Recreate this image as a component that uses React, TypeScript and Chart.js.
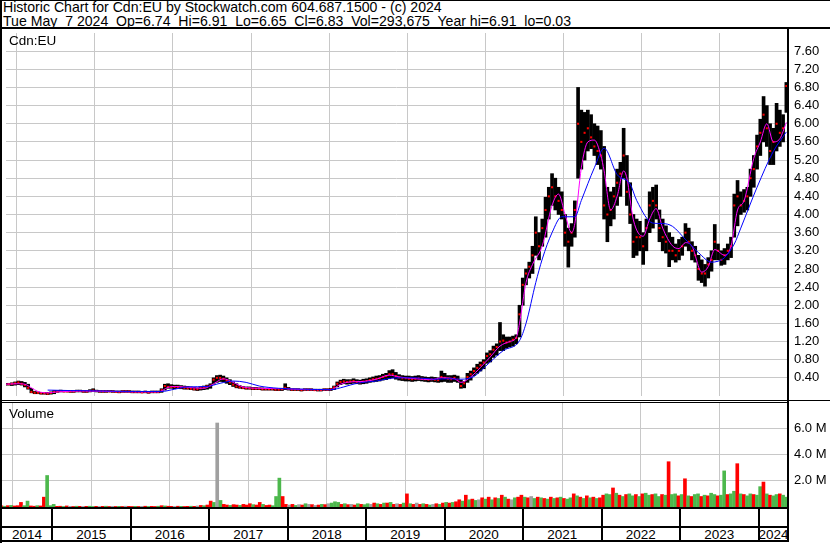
import React, { useEffect, useRef, useState } from 'react';
import { Chart, registerables } from 'chart.js';

Chart.register(...registerables);

const FONT = '"Liberation Sans", Arial, Helvetica, sans-serif';

// One entry per half-month, from May 2014 (1st half) to May 2024 (1st half)
const YEAR_LABELS = ['2014', '2015', '2016', '2017', '2018', '2019', '2020', '2021', '2022', '2023', '2024'];

const LOW = [
  0.24, 0.24, 0.23, 0.24, 0.25, 0.24, 0.20, 0.15, 0.07, 0.05, 0.05, 0.04, 0.04, 0.03, 0.04, 0.05,
  0.08, 0.09, 0.09, 0.09, 0.08, 0.08, 0.09, 0.09, 0.08, 0.08, 0.09, 0.10, 0.09, 0.08, 0.08, 0.08, 0.09, 0.08, 0.08, 0.07, 0.08, 0.08, 0.08, 0.07,
  0.07, 0.07, 0.07, 0.07, 0.06, 0.07, 0.07, 0.07, 0.08, 0.13, 0.17, 0.17, 0.16, 0.17, 0.16, 0.15, 0.15, 0.14, 0.13, 0.12, 0.13, 0.14, 0.15, 0.17,
  0.26, 0.30, 0.32, 0.31, 0.28, 0.25, 0.21, 0.18, 0.17, 0.16, 0.15, 0.15, 0.14, 0.14, 0.14, 0.13, 0.13, 0.13, 0.13, 0.12, 0.12, 0.12, 0.14, 0.13,
  0.12, 0.12, 0.12, 0.11, 0.12, 0.12, 0.12, 0.12, 0.11, 0.11, 0.12, 0.12, 0.12, 0.14, 0.20, 0.25, 0.27, 0.26, 0.27, 0.28, 0.27, 0.26, 0.27, 0.28,
  0.30, 0.31, 0.32, 0.33, 0.35, 0.36, 0.38, 0.40, 0.37, 0.35, 0.34, 0.33, 0.33, 0.32, 0.33, 0.34, 0.33, 0.32, 0.31, 0.32, 0.31, 0.30, 0.31, 0.32,
  0.30, 0.30, 0.32, 0.30, 0.17, 0.18, 0.30, 0.35, 0.45, 0.50, 0.55, 0.60, 0.72, 0.75, 0.85, 0.90, 1.00, 1.00, 1.05, 1.08, 1.10, 1.15, 1.30, 2.00,
  2.45, 2.60, 2.70, 3.10, 3.00, 3.30, 3.50, 3.90, 4.20, 4.10, 4.00, 3.90, 3.30, 2.84, 3.30, 3.50, 4.80, 5.00, 5.20, 5.40, 5.45, 5.30, 5.10, 5.00,
  3.90, 3.40, 3.75, 3.90, 4.20, 4.40, 4.80, 4.20, 3.80, 3.05, 3.10, 3.20, 2.90, 3.20, 3.60, 3.70, 3.90, 3.40, 3.20, 3.15, 2.85, 3.00, 2.95, 3.00,
  3.10, 3.30, 3.20, 3.00, 2.95, 2.55, 2.50, 2.42, 2.60, 2.75, 3.00, 3.00, 2.88, 2.90, 3.00, 3.05, 3.50, 3.75, 4.00, 4.05, 4.10, 4.40, 4.60, 5.00,
  5.30, 5.60, 5.50, 5.10, 5.10, 5.40, 5.50, 5.60, 6.25,
];

const HIGH = [
  0.28, 0.28, 0.29, 0.31, 0.33, 0.32, 0.30, 0.26, 0.17, 0.10, 0.09, 0.08, 0.08, 0.08, 0.09, 0.12,
  0.12, 0.13, 0.12, 0.12, 0.12, 0.11, 0.13, 0.13, 0.12, 0.12, 0.14, 0.16, 0.13, 0.12, 0.12, 0.12, 0.12, 0.12, 0.11, 0.11, 0.12, 0.12, 0.12, 0.11,
  0.11, 0.11, 0.10, 0.11, 0.10, 0.11, 0.11, 0.11, 0.16, 0.26, 0.27, 0.25, 0.24, 0.24, 0.23, 0.22, 0.21, 0.20, 0.19, 0.18, 0.20, 0.22, 0.24, 0.27,
  0.40, 0.45, 0.46, 0.44, 0.40, 0.36, 0.31, 0.27, 0.23, 0.21, 0.20, 0.20, 0.19, 0.19, 0.18, 0.18, 0.17, 0.17, 0.17, 0.16, 0.16, 0.17, 0.27, 0.19,
  0.16, 0.16, 0.16, 0.15, 0.16, 0.16, 0.16, 0.15, 0.15, 0.15, 0.16, 0.16, 0.17, 0.22, 0.31, 0.35, 0.37, 0.36, 0.36, 0.38, 0.36, 0.35, 0.37, 0.38,
  0.40, 0.42, 0.44, 0.45, 0.48, 0.50, 0.56, 0.58, 0.52, 0.47, 0.45, 0.44, 0.44, 0.43, 0.44, 0.45, 0.43, 0.42, 0.41, 0.42, 0.41, 0.40, 0.55, 0.50,
  0.45, 0.45, 0.46, 0.44, 0.35, 0.32, 0.50, 0.55, 0.62, 0.70, 0.75, 0.80, 0.95, 1.00, 1.10, 1.15, 1.62, 1.35, 1.30, 1.30, 1.32, 1.35, 2.00, 2.60,
  2.80, 2.95, 3.30, 3.95, 3.60, 3.90, 4.38, 4.60, 4.90, 4.80, 4.60, 4.50, 4.00, 3.70, 3.80, 4.30, 6.80, 6.30, 6.25, 6.30, 6.20, 6.00, 5.95, 5.85,
  5.50, 4.60, 4.50, 4.60, 5.00, 5.15, 5.90, 5.30, 4.70, 4.00, 3.90, 3.85, 3.60, 3.90, 4.50, 4.60, 4.65, 4.10, 3.90, 3.75, 3.60, 3.50, 3.35, 3.45,
  3.50, 3.80, 3.70, 3.40, 3.30, 3.10, 3.00, 2.90, 3.05, 3.20, 3.78, 3.35, 3.20, 3.25, 3.35, 3.50, 4.45, 4.75, 4.50, 4.55, 4.60, 5.00, 5.30, 5.75,
  6.10, 6.60, 6.40, 6.00, 5.90, 6.45, 6.30, 6.20, 6.91,
];

const CLOSE = [
  0.26, 0.26, 0.27, 0.28, 0.30, 0.27, 0.24, 0.18, 0.09, 0.07, 0.07, 0.06, 0.06, 0.05, 0.07, 0.09,
  0.10, 0.11, 0.10, 0.10, 0.10, 0.10, 0.11, 0.11, 0.10, 0.10, 0.11, 0.12, 0.11, 0.10, 0.10, 0.10, 0.10, 0.10, 0.09, 0.09, 0.10, 0.10, 0.10, 0.09,
  0.09, 0.09, 0.08, 0.09, 0.08, 0.09, 0.09, 0.09, 0.13, 0.22, 0.20, 0.20, 0.20, 0.20, 0.19, 0.18, 0.17, 0.16, 0.15, 0.15, 0.17, 0.19, 0.21, 0.23,
  0.36, 0.40, 0.40, 0.38, 0.34, 0.30, 0.25, 0.21, 0.19, 0.18, 0.17, 0.17, 0.16, 0.16, 0.16, 0.15, 0.15, 0.15, 0.15, 0.14, 0.14, 0.15, 0.18, 0.16,
  0.14, 0.14, 0.14, 0.13, 0.14, 0.14, 0.14, 0.13, 0.13, 0.13, 0.14, 0.14, 0.15, 0.19, 0.27, 0.31, 0.32, 0.31, 0.32, 0.33, 0.31, 0.30, 0.32, 0.33,
  0.35, 0.37, 0.38, 0.39, 0.42, 0.44, 0.48, 0.48, 0.44, 0.41, 0.39, 0.39, 0.38, 0.37, 0.38, 0.39, 0.38, 0.37, 0.36, 0.37, 0.36, 0.35, 0.42, 0.40,
  0.38, 0.37, 0.40, 0.36, 0.22, 0.28, 0.42, 0.48, 0.55, 0.62, 0.68, 0.74, 0.88, 0.92, 1.02, 1.08, 1.20, 1.22, 1.18, 1.20, 1.24, 1.28, 1.80, 2.45,
  2.70, 2.85, 3.10, 3.60, 3.30, 3.70, 4.10, 4.40, 4.60, 4.40, 4.30, 4.10, 3.60, 3.40, 3.60, 4.10, 6.00, 5.60, 5.80, 5.90, 5.70, 5.50, 5.40, 5.30,
  4.20, 4.00, 4.10, 4.40, 4.70, 4.90, 5.30, 4.50, 4.00, 3.40, 3.50, 3.50, 3.30, 3.70, 4.20, 4.30, 4.20, 3.70, 3.50, 3.40, 3.20, 3.20, 3.10, 3.20,
  3.30, 3.60, 3.40, 3.20, 3.10, 2.80, 2.70, 2.70, 2.90, 3.00, 3.40, 3.20, 3.00, 3.10, 3.20, 3.30, 4.20, 4.40, 4.20, 4.30, 4.40, 4.80, 5.00, 5.50,
  5.80, 6.20, 5.90, 5.40, 5.60, 6.00, 5.80, 5.90, 6.83,
];

// Volume in millions of shares
const VOLUME_M = [
  0.08, 0.06, 0.10, 0.12, 0.08, 0.10, 0.35, 0.10, 0.45, 0.08, 0.06, 0.10, 0.08, 0.75, 2.40, 0.10,
  0.20, 0.05, 0.06, 0.04, 0.08, 0.05, 0.04, 0.06, 0.05, 0.04, 0.05, 0.06, 0.04, 0.05, 0.04, 0.05, 0.06, 0.04, 0.05, 0.04, 0.05, 0.04, 0.06, 0.05,
  0.04, 0.05, 0.04, 0.05, 0.06, 0.04, 0.05, 0.04, 0.06, 0.10, 0.08, 0.06, 0.05, 0.04, 0.06, 0.05, 0.04, 0.05, 0.06, 0.05, 0.08, 0.12, 0.10, 0.15,
  0.45, 0.35, 6.40, 0.50, 0.20, 0.15, 0.12, 0.18, 0.15, 0.12, 0.20, 0.15, 0.25, 0.18, 0.15, 0.35, 0.20, 0.12, 0.15, 0.10, 0.80, 2.20, 0.80, 0.20,
  0.15, 0.20, 0.12, 0.18, 0.15, 0.25, 0.20, 0.18, 0.12, 0.15, 0.20, 0.18, 0.25, 0.30, 0.40, 0.35, 0.20, 0.25, 0.18, 0.20, 0.15, 0.25, 0.20, 0.18,
  0.25, 0.20, 0.30, 0.25, 0.20, 0.30, 0.30, 0.35, 0.20, 0.25, 0.20, 0.30, 1.00, 0.25, 0.20, 0.30, 0.20, 0.25, 0.20, 0.15, 0.20, 0.25, 0.20, 0.30,
  0.35, 0.30, 0.35, 0.40, 0.55, 0.45, 0.90, 0.55, 0.60, 0.50, 0.55, 0.70, 0.60, 0.75, 0.55, 0.70, 0.65, 0.90, 0.75, 0.60, 0.55, 0.70, 0.75, 0.90,
  0.75, 0.70, 0.80, 0.65, 0.75, 0.70, 0.65, 0.60, 0.75, 0.65, 0.70, 0.75, 0.65, 0.60, 0.70, 1.00, 0.85, 0.75, 0.65, 0.85, 0.70, 0.75, 0.65, 0.70,
  0.90, 1.00, 0.95, 1.45, 1.05, 0.90, 0.80, 0.95, 1.00, 0.85, 0.95, 0.80, 1.00, 1.05, 0.90, 0.95, 1.00, 0.80, 0.95, 0.90, 3.45, 0.95, 1.00, 0.85,
  0.95, 2.15, 0.85, 0.80, 0.95, 1.00, 0.80, 0.90, 0.85, 1.05, 0.95, 0.85, 0.90, 2.75, 0.95, 1.00, 1.20, 3.30, 1.00, 0.95, 0.85, 1.00, 0.95, 0.90,
  1.55, 1.90, 1.00, 0.90, 0.85, 0.95, 1.00, 0.90, 0.75,
];

// g = up, r = down, n = unchanged
const VOLUME_DIR = (
  'rgrgrrrggrrgrrgg' +
  'grrgrnrgrnrggrnrgrnrgrnr' +
  'rgrnrgrrgrgrrnrgrrgrnrgr' +
  'rgngrrgrrgrrrgrrgrrgggrr' +
  'nrgnrgnrnrgrngggrgrnrgrg' +
  'gnrgrgrgrnrgrgrnrgrgnrgr' +
  'grgrrgrgrgnrgrgrgrgrngrr' +
  'grngrgrgrgrgrggrgrgrgrgr' +
  'rggrgrgrggrgrggrggrgrggr' +
  'grgrggrgrggrggrggrgrggrg' +
  'grgrggrgg'
).split('');

// Short moving average (magenta): period index -> value
const FAST_MA_AT = [0, 4, 6, 8, 10, 13, 16, 24, 32, 40, 47, 50, 52, 58, 61, 64, 67, 70, 73, 78, 86, 92, 100, 103, 106, 110, 114, 118, 121, 126, 131, 134, 138, 140, 143, 146, 149, 152, 155, 157, 158, 160, 162, 165, 168, 170, 172, 174, 175, 177, 179, 181, 183, 184, 186, 188, 190, 191, 193, 196, 198, 200, 202, 205, 207, 209, 211, 214, 216, 218, 221, 223, 225, 227, 230, 232, 234, 236, 238, 240];
const FAST_MA = [0.26, 0.27, 0.26, 0.18, 0.10, 0.07, 0.09, 0.11, 0.10, 0.09, 0.09, 0.19, 0.21, 0.18, 0.17, 0.27, 0.38, 0.30, 0.20, 0.17, 0.16, 0.14, 0.14, 0.26, 0.31, 0.32, 0.37, 0.46, 0.42, 0.38, 0.36, 0.40, 0.38, 0.30, 0.42, 0.63, 0.86, 1.10, 1.20, 1.29, 1.60, 2.50, 2.90, 3.31, 4.20, 4.45, 4.00, 3.60, 3.80, 5.03, 5.60, 5.64, 5.30, 4.96, 4.10, 4.40, 4.96, 4.80, 3.88, 3.52, 3.90, 4.13, 3.70, 3.31, 3.25, 3.38, 3.30, 2.73, 2.85, 3.23, 3.10, 3.30, 4.10, 4.30, 5.24, 5.60, 6.00, 5.60, 5.67, 6.03];

// Long moving average (blue)
const SLOW_MA_AT = [13, 20, 30, 40, 48, 52, 56, 62, 66, 70, 74, 78, 84, 92, 100, 104, 108, 114, 120, 126, 132, 136, 140, 144, 146, 149, 153, 158, 160, 163, 165, 168, 171, 175, 177, 181, 184, 188, 192, 194, 199, 202, 205, 209, 213, 217, 219, 221, 224, 226, 231, 236, 240];
const SLOW_MA = [0.13, 0.12, 0.11, 0.10, 0.10, 0.15, 0.20, 0.21, 0.28, 0.33, 0.30, 0.22, 0.17, 0.15, 0.14, 0.20, 0.28, 0.33, 0.40, 0.40, 0.37, 0.38, 0.37, 0.43, 0.55, 0.75, 1.00, 1.22, 1.60, 2.50, 3.02, 3.60, 3.95, 3.95, 4.31, 5.03, 5.46, 4.88, 4.67, 4.31, 3.81, 3.80, 3.74, 3.45, 3.16, 2.95, 2.97, 3.05, 3.35, 3.70, 4.60, 5.39, 5.82];

const PRICE_TICKS = [0.4, 0.8, 1.2, 1.6, 2.0, 2.4, 2.8, 3.2, 3.6, 4.0, 4.4, 4.8, 5.2, 5.6, 6.0, 6.4, 6.8, 7.2, 7.6];
const VOLUME_TICKS = [2, 4, 6];

// boundaries between years, in half-month index units (Dec 2nd half | Jan 1st half)
const YEAR_BOUNDS = YEAR_LABELS.slice(1).map((_, k) => 15.5 + 24 * k);

const X_MIN = 0.2;
const X_MAX = 240.2;
const GRID = '#c8c8c8';
const DIR_COLOR: Record<string, string> = { g: '#4cb84c', r: '#ff0000', n: '#a0a0a0' };

const yearGridX = (s: any) => {
  s.ticks = YEAR_BOUNDS.map((v) => ({ value: v }));
};
const zeroPad = (s: any) => {
  s.paddingTop = 0;
  s.paddingBottom = 0;
  s.paddingLeft = 0;
  s.paddingRight = 0;
};

function xScale() {
  return {
    type: 'linear' as const,
    min: X_MIN,
    max: X_MAX,
    offset: false,
    afterBuildTicks: yearGridX,
    grid: { color: GRID, lineWidth: 1, drawTicks: false },
    border: { display: false },
    ticks: { display: false },
    afterFit: (s: any) => {
      s.height = 0;
      zeroPad(s);
    },
  };
}

export default function App() {
  const priceRef = useRef<HTMLCanvasElement>(null);
  const volRef = useRef<HTMLCanvasElement>(null);
  const [cells, setCells] = useState<{ left: number; right: number; label: string }[]>([]);

  useEffect(() => {
    const price = new Chart(priceRef.current as HTMLCanvasElement, {
      type: 'bar',
      data: {
        datasets: [
          {
            type: 'line',
            label: 'MA long',
            data: SLOW_MA_AT.map((x, k) => ({ x, y: SLOW_MA[k] })),
            borderColor: '#0000ff',
            borderWidth: 1,
            pointRadius: 0,
            cubicInterpolationMode: 'monotone',
            order: 0,
          } as any,
          {
            type: 'line',
            label: 'MA short',
            data: FAST_MA_AT.map((x, k) => ({ x, y: FAST_MA[k] })),
            borderColor: '#ff00ff',
            borderWidth: 1,
            pointRadius: 0,
            cubicInterpolationMode: 'monotone',
            order: 1,
          } as any,
          {
            type: 'line',
            label: 'Close',
            data: CLOSE.map((y, i) => ({ x: i, y })),
            showLine: false,
            pointStyle: 'rect',
            pointRadius: 1.45,
            pointBorderWidth: 0,
            pointBackgroundColor: '#ff0000',
            order: 2,
          } as any,
          {
            type: 'bar',
            label: 'Range',
            data: LOW.map((lo, i) => ({ x: i, y: [lo, HIGH[i]] })),
            backgroundColor: '#000000',
            barThickness: 3,
            order: 3,
          } as any,
        ],
      },
      options: {
        animation: false,
        responsive: false,
        maintainAspectRatio: false,
        devicePixelRatio: 1,
        layout: { padding: 0 },
        plugins: { legend: { display: false }, tooltip: { enabled: false } },
        scales: {
          x: xScale() as any,
          y: {
            position: 'right',
            min: 0,
            max: 8,
            afterBuildTicks: (s: any) => {
              s.ticks = PRICE_TICKS.map((v) => ({ value: v }));
            },
            grid: { color: GRID, lineWidth: 1, drawTicks: false },
            border: { display: false },
            ticks: {
              autoSkip: false,
              padding: 7,
              color: '#000000',
              font: { family: FONT, size: 13 },
              callback: (v: any) => Number(v).toFixed(2),
            },
            afterFit: (s: any) => {
              s.width = 43;
              zeroPad(s);
            },
          } as any,
        },
      },
    });

    const vol = new Chart(volRef.current as HTMLCanvasElement, {
      type: 'bar',
      data: {
        datasets: [
          {
            label: 'Volume',
            data: VOLUME_M.map((v, i) => ({ x: i, y: v })),
            backgroundColor: VOLUME_DIR.map((d) => DIR_COLOR[d]),
            barThickness: 3,
          } as any,
        ],
      },
      options: {
        animation: false,
        responsive: false,
        maintainAspectRatio: false,
        devicePixelRatio: 1,
        layout: { padding: 0 },
        plugins: { legend: { display: false }, tooltip: { enabled: false } },
        scales: {
          x: xScale() as any,
          y: {
            position: 'right',
            min: 0,
            max: 8,
            afterBuildTicks: (s: any) => {
              s.ticks = VOLUME_TICKS.map((v) => ({ value: v }));
            },
            grid: { color: GRID, lineWidth: 1, drawTicks: false },
            border: { display: false },
            ticks: {
              autoSkip: false,
              padding: 7,
              color: '#000000',
              font: { family: FONT, size: 13 },
              callback: (v: any) => Number(v).toFixed(1) + ' M',
            },
            afterFit: (s: any) => {
              s.width = 43;
              zeroPad(s);
            },
          } as any,
        },
      },
    });

    const xs = vol.scales.x;
    const area = vol.chartArea;
    const edges = [area.left, ...YEAR_BOUNDS.map((b) => xs.getPixelForValue(b)), area.right].map((p) => p + 2);
    setCells(YEAR_LABELS.map((label, k) => ({ left: edges[k], right: edges[k + 1], label })));

    return () => {
      price.destroy();
      vol.destroy();
    };
  }, []);

  const line = (left: number, top: number, width: number, height: number, key: string) => (
    <div key={key} style={{ position: 'absolute', left, top, width, height, background: '#000' }} />
  );

  return (
    <div
      style={{
        position: 'absolute',
        left: 0,
        top: 0,
        width: 830,
        height: 543,
        background: '#fff',
        overflow: 'hidden',
        fontFamily: FONT,
        color: '#000',
      }}
    >
      <div style={{ position: 'absolute', left: 3, top: 0, fontSize: 14.1, lineHeight: '14px', whiteSpace: 'pre' }}>
        <div>Historic Chart for Cdn:EU by Stockwatch.com 604.687.1500 - (c) 2024</div>
        <div>Tue May  7 2024  Op=6.74  Hi=6.91  Lo=6.65  Cl=6.83  Vol=293,675  Year hi=6.91  lo=0.03</div>
      </div>

      <canvas ref={priceRef} width={828} height={371} style={{ position: 'absolute', left: 2, top: 29, width: 828, height: 371 }} />
      <canvas ref={volRef} width={828} height={105} style={{ position: 'absolute', left: 2, top: 402, width: 828, height: 105 }} />

      <div style={{ position: 'absolute', left: 9, top: 33, fontSize: 13.5, whiteSpace: 'pre' }}>Cdn:EU</div>
      <div style={{ position: 'absolute', left: 9, top: 406, fontSize: 13.5, whiteSpace: 'pre' }}>Volume</div>

      {cells.map((c) => (
        <div
          key={c.label}
          style={{
            position: 'absolute',
            left: c.left,
            width: c.right - c.left,
            top: 528,
            height: 12,
            lineHeight: '13px',
            fontSize: 13.5,
            textAlign: 'center',
          }}
        >
          {c.label}
        </div>
      ))}

      {line(0, 0, 830, 1, 'top')}
      {line(0, 0, 2, 543, 'left')}
      {line(0, 27, 830, 2, 'hdr')}
      {line(787, 27, 2, 515, 'right')}
      {line(0, 400, 830, 1, 'sepA')}
      {line(0, 402, 789, 1, 'sepB')}
      {line(0, 507, 789, 2, 'base')}
      {line(0, 526, 789, 2, 'mid')}
      {line(0, 540, 789, 2, 'bottom')}
      {cells.slice(1).map((c) => line(Math.round(c.left) - 1, 507, 2, 35, 'div' + c.label))}
    </div>
  );
}
